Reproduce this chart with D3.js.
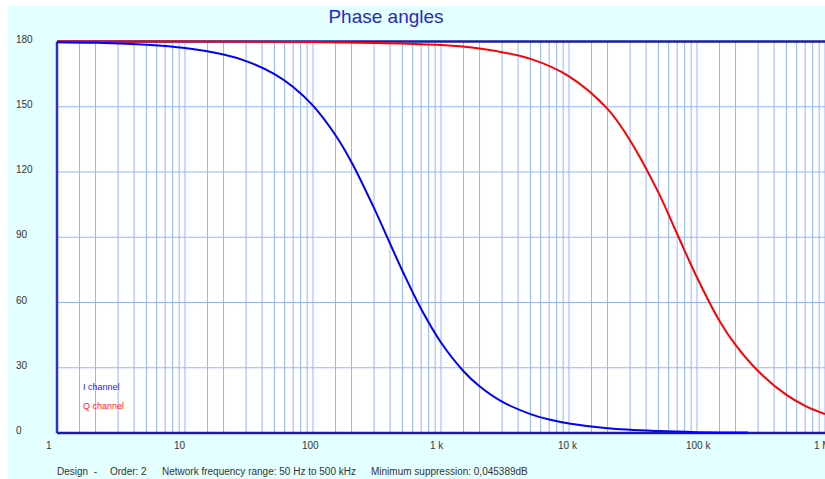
<!DOCTYPE html>
<html>
<head>
<meta charset="utf-8">
<script src="https://cdn.jsdelivr.net/npm/d3@7"></script>
<style>
  body { margin: 0; background: #ffffff; }
  svg { display: block; font-family: "Liberation Sans", Arial, sans-serif; }
</style>
</head>
<body>
<div id="PhaseView"></div>
<script>
// chart data
var titleText = "Phase angles";
var freqI = [1, 2, 5, 10, 20, 30, 50, 70, 100, 150, 200, 300, 400, 500, 700, 1000, 1500, 2000, 3000, 5000, 7000, 10000, 20000, 50000, 100000, 250000];
var phaseI = [179.7, 179.4, 178.5, 177.0, 174.0, 171.0, 165.0, 159.1, 150.5, 136.9, 124.5, 103.4, 87.1, 74.5, 57.0, 41.6, 28.4, 21.5, 14.4, 8.7, 6.2, 4.4, 2.2, 0.9, 0.4, 0.2];
var freqQ = [1, 100, 1000, 2000, 5000, 10000, 20000, 30000, 50000, 70000, 100000, 150000, 200000, 300000, 500000, 700000, 1000000];
var phaseQ = [180, 179.8, 178.4, 176.8, 172.0, 164.0, 149.0, 134.5, 110.5, 91.5, 71.5, 51.5, 40.5, 28.5, 17.5, 12.5, 8.7];
var yTicks = [0, 30, 60, 90, 120, 150, 180];
var xTickValues = [1, 10, 100, 1000, 10000, 100000, 1000000];
var xTickLabels = ["1", "10", "100", "1 k", "10 k", "100 k", "1 M"];
var gridSteps = [1, 1.5, 2, 3, 4, 5, 6, 7, 8, 9];
var legendNames = ["I channel", "Q channel"];
var footerTexts = ["Design  -", "Order: 2", "Network frequency range: 50 Hz to 500 kHz", "Minimum suppression: 0,045389dB"];

drawChart = function() {
    var width = 825, height = 479;
    var plotLeft = 57, plotRight = 825, plotTop = 41.5, plotBottom = 433;
    var blue = "#0000ff", red = "#ff0000", navy = "#1c1ca0", gridColor = "#94b4ff";

    var svg = d3.select("#PhaseView").append("svg")
        .attr("width", width)
        .attr("height", height);

    // background panel
    svg.append("rect")
        .attr("x", 8).attr("y", 6)
        .attr("width", width - 8).attr("height", height - 6)
        .attr("fill", "#e4ffff");

    svg.append("rect")
        .attr("x", plotLeft).attr("y", plotTop)
        .attr("width", plotRight - plotLeft).attr("height", plotBottom - plotTop)
        .attr("fill", "#ffffff");

    var x = d3.scaleLog().domain([1, 1000000]).range([plotLeft, plotRight]);
    var y = d3.scaleLinear().domain([0, 180]).range([plotBottom, plotTop]);

    // vertical grid: 1, 1.5, 2..9 in each decade
    var gridFreqs = [];
    for (var d = 0; d < 6; d++) {
        gridSteps.forEach(function(s) {
            gridFreqs.push(s * Math.pow(10, d));
        });
    }
    gridFreqs.push(1000000);

    svg.append("g").selectAll("line")
        .data(gridFreqs.filter(function(f) { return f > 1; }))
        .enter().append("line")
        .attr("x1", function(f) { return x(f); })
        .attr("x2", function(f) { return x(f); })
        .attr("y1", plotTop)
        .attr("y2", plotBottom)
        .attr("stroke", gridColor)
        .attr("stroke-width", 1);

    svg.append("g").selectAll("line")
        .data(yTicks.filter(function(v) { return v > 0 && v < 180; }))
        .enter().append("line")
        .attr("x1", plotLeft)
        .attr("x2", plotRight)
        .attr("y1", function(v) { return y(v); })
        .attr("y2", function(v) { return y(v); })
        .attr("stroke", gridColor)
        .attr("stroke-width", 1);

    // frame
    svg.append("line")
        .attr("x1", plotLeft).attr("x2", plotRight)
        .attr("y1", y(180)).attr("y2", y(180))
        .attr("stroke", navy).attr("stroke-width", 2.5);
    svg.append("line")
        .attr("x1", plotLeft).attr("x2", plotRight)
        .attr("y1", y(0)).attr("y2", y(0))
        .attr("stroke", navy).attr("stroke-width", 2.5);
    svg.append("line")
        .attr("x1", plotLeft).attr("x2", plotLeft)
        .attr("y1", y(180)).attr("y2", y(0))
        .attr("stroke", "#3030c8").attr("stroke-width", 2.5);

    // curves
    var line = d3.line()
        .x(function(d) { return x(d[0]); })
        .y(function(d) { return y(d[1]); })
        .curve(d3.curveCatmullRom.alpha(0.5));

    svg.append("path")
        .datum(d3.zip(freqQ, phaseQ))
        .attr("d", line)
        .attr("fill", "none")
        .attr("stroke", red)
        .attr("stroke-width", 2);

    svg.append("path")
        .datum(d3.zip(freqI, phaseI))
        .attr("d", line)
        .attr("fill", "none")
        .attr("stroke", blue)
        .attr("stroke-width", 2);

    // axis labels
    svg.append("g").selectAll("text")
        .data(yTicks)
        .enter().append("text")
        .attr("x", 16)
        .attr("y", function(v) { return y(v) + 1; })
        .attr("font-size", 10)
        .attr("fill", "#333333")
        .text(function(v) { return v; });

    svg.append("g").selectAll("text")
        .data(xTickValues)
        .enter().append("text")
        .attr("x", function(f) { return x(f) - 11; })
        .attr("y", 449)
        .attr("font-size", 10)
        .attr("fill", "#333333")
        .text(function(f, i) { return xTickLabels[i]; });

    // title
    svg.append("text")
        .attr("x", 386)
        .attr("y", 23)
        .attr("text-anchor", "middle")
        .attr("font-size", 19)
        .attr("fill", "#2828c8")
        .text(titleText);

    // legend
    svg.append("g").selectAll("text")
        .data(legendNames)
        .enter().append("text")
        .attr("x", 83)
        .attr("y", function(n, i) { return 390 + i * 19; })
        .attr("font-size", 9)
        .attr("fill", function(n, i) { return i === 0 ? "#2020ff" : "#ff2020"; })
        .text(function(n) { return n; });

    // footer
    var footerX = [57, 110, 162, 371];
    svg.append("g").selectAll("text")
        .data(footerTexts)
        .enter().append("text")
        .attr("x", function(t, i) { return footerX[i]; })
        .attr("y", 475)
        .attr("font-size", 10)
        .attr("fill", "#333333")
        .attr("xml:space", "preserve")
        .text(function(t) { return t; });
}

drawChart();
</script>
</body>
</html>
